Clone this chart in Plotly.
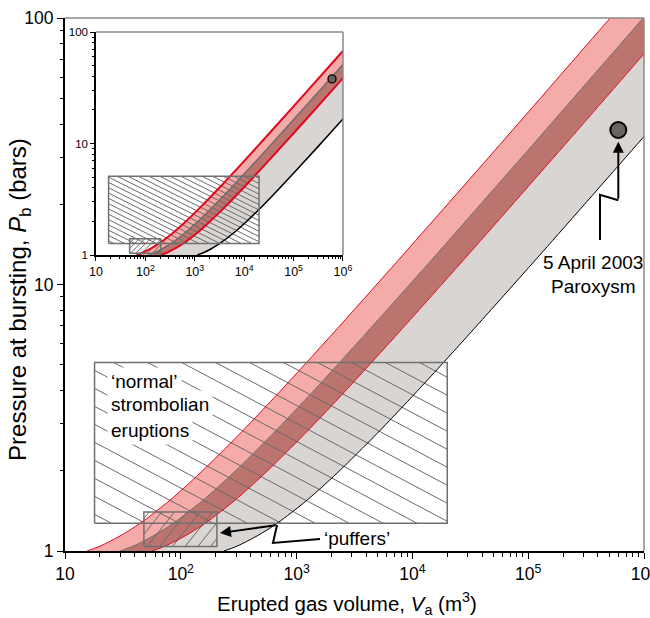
import numpy as np
import plotly.graph_objects as go

# ---------------- data ----------------
# bursting pressure levels shared by all model curves (bars)
P_curve = [1.0, 1.0424, 1.1384, 1.2691, 1.5511, 1.9585, 2.7576, 3.9707, 6.3726,
           12.545, 33.52, 97.86, 148.56]
# main panel: erupted gas volume (m3) of each boundary curve at those pressures
V_upper_red = [15.49, 20.05, 29.85, 44.43, 80.67, 146.5, 324.6, 718.9, 1943,
               7815, 57080, 488900, 1127000]
V_grey_top = [29.85, 38.64, 57.52, 85.62, 155.5, 282.3, 625.5, 1385, 3744,
              15060, 110000, 942100, 2172000]
V_lower_red = [56.43, 73.04, 108.7, 161.9, 293.9, 533.7, 1182, 2619, 7078,
               28470, 207900, 1781000, 4106000]
V_black = [235.9, 305.4, 454.6, 676.7, 1229, 2231, 4944, 10950, 29590,
           119000, 869300, 7446000, 17160000]
# inset panel curves
Vi_upper_red = [66.14, 85.61, 127.5, 189.7, 344.5, 625.6, 1386, 3070, 8297,
                33370, 243700, 2088000, 4812000]
Vi_grey_top = [115.4, 149.4, 222.4, 331.0, 601.0, 1091, 2418, 5356, 14480,
               58220, 425200, 3642000, 8396000]
Vi_lower_red = [204.5, 264.7, 394.0, 586.5, 1065, 1934, 4285, 9489, 25650,
                103200, 753500, 6453000, 14880000]
Vi_black = [1121, 1452, 2161, 3217, 5841, 10610, 23500, 52050, 140700,
            565800, 4133000, 35400000, 81600000]

# 5 April 2003 paroxysm
parox_V = [6.0e5]
parox_P = [38.0]

# observation ranges (V min, V max, P min, P max)
normal_box = (18, 2.0e4, 1.27, 5.1)
puffer_box = (48, 205, 1.04, 1.4)

x_tickvals = [10, 100, 1e3, 1e4, 1e5, 1e6]
x_ticktext = ["10", "10<sup>2</sup>", "10<sup>3</sup>", "10<sup>4</sup>",
              "10<sup>5</sup>", "10<sup>6</sup>"]
y_tickvals = [1, 10, 100]
y_ticktext = ["1", "10", "100"]

# annotation anchor points (data units)
puffer_path_V = [1592, 625, 678]
puffer_path_P = [1.109, 1.072, 1.252]
puffer_tip = (218, 1.168)
parox_path_V = [6.0e5, 4.17e5, 4.17e5]
parox_path_P = [20.7, 21.7, 14.7]
parox_tip = (6.0e5, 34.3)

# ---------------- styling / layout constants ----------------
FW, FH = 650, 618
ML, MR, MT, MB = 65, 6, 18, 67
PW, PH = FW - ML - MR, FH - MT - MB
INSET_X = [0.0535, 0.4801]
INSET_Y = [0.5553, 0.9737]
FONT = "Liberation Sans, Arial, sans-serif"

PINK = "#f5aba7"
DARK = "#bc746f"
GREY = "#d9d5d3"
RED = "#e3061f"
HATCH = "#6a6a6a"
SMOOTH = 0.8

px_main = (PW / 5.0, PH / 2.0)
px_inset = (PW * (INSET_X[1] - INSET_X[0]) / 5.0, PH * (INSET_Y[1] - INSET_Y[0]) / 2.0)


def minor_vals(lo_dec, hi_dec):
    out = []
    for d in range(lo_dec, hi_dec):
        for m in range(2, 10):
            out.append(m * 10 ** d)
    return out


def hatch(box, kind, spacing, slope, pxpd):
    v0, v1, p0, p1 = box
    lx0, lx1, ly0, ly1 = np.log10(v0), np.log10(v1), np.log10(p0), np.log10(p1)
    W = (lx1 - lx0) * pxpd[0]
    H = (ly1 - ly0) * pxpd[1]
    xs, ys = [], []
    if kind == "back":
        cs = np.arange(spacing * 0.5, H + slope * W, spacing)
        for c in cs:
            u0 = max(0.0, (c - H) / slope)
            u1 = min(W, c / slope)
            if u1 <= u0:
                continue
            for u in (u0, u1):
                xs.append(10 ** (lx0 + u / pxpd[0]))
                ys.append(10 ** (ly0 + (c - slope * u) / pxpd[1]))
            xs.append(None); ys.append(None)
    else:
        cs = np.arange(-slope * W + spacing * 0.5, H, spacing)
        for c in cs:
            u0 = max(0.0, -c / slope)
            u1 = min(W, (H - c) / slope)
            if u1 <= u0:
                continue
            for u in (u0, u1):
                xs.append(10 ** (lx0 + u / pxpd[0]))
                ys.append(10 ** (ly0 + (c + slope * u) / pxpd[1]))
            xs.append(None); ys.append(None)
    return xs, ys


def rect(box):
    v0, v1, p0, p1 = box
    return [v0, v1, v1, v0, v0], [p0, p0, p1, p1, p0]


fig = go.Figure()


def add_panel(curves, xa, ya, lw_red, lw_other, pxpd, hatch_big, hatch_small, dot_size):
    c1, c2, c3, c4 = curves
    for a, b, col in ((c1, c2, PINK), (c2, c3, DARK), (c3, c4, GREY)):
        fig.add_trace(go.Scatter(x=a + b[::-1], y=P_curve + P_curve[::-1], fill="toself",
                                 fillcolor=col,
                                 line=dict(width=0, shape="spline", smoothing=SMOOTH),
                                 mode="lines",
                                 hoverinfo="skip", showlegend=False, xaxis=xa, yaxis=ya))
    for box, (kind, sp, sl) in ((normal_box, hatch_big), (puffer_box, hatch_small)):
        hx, hy = hatch(box, kind, sp, sl, pxpd)
        fig.add_trace(go.Scatter(x=hx, y=hy, mode="lines", line=dict(color=HATCH, width=1),
                                 hoverinfo="skip", showlegend=False, xaxis=xa, yaxis=ya))
    for c, col, w in ((c1, RED, lw_red), (c2, "#6e6e6e", lw_other), (c3, RED, lw_red),
                      (c4, "#000000", lw_other)):
        fig.add_trace(go.Scatter(x=c, y=P_curve, mode="lines",
                                 line=dict(color=col, width=w, shape="spline", smoothing=SMOOTH),
                                 hoverinfo="skip", showlegend=False, xaxis=xa, yaxis=ya))
    for box in (normal_box, puffer_box):
        rx, ry = rect(box)
        fig.add_trace(go.Scatter(x=rx, y=ry, mode="lines", line=dict(color="#707070", width=1.5),
                                 hoverinfo="skip", showlegend=False, xaxis=xa, yaxis=ya))
    fig.add_trace(go.Scatter(x=parox_V, y=parox_P, mode="markers",
                             marker=dict(size=dot_size, color="#6b6461",
                                         line=dict(color="black", width=2 if dot_size > 10 else 1.3)),
                             hoverinfo="skip", showlegend=False, xaxis=xa, yaxis=ya))


add_panel((V_upper_red, V_grey_top, V_lower_red, V_black), "x", "y", 1.0, 1.0, px_main,
          ("back", 18.0, 0.53), ("fwd", 15.9, 1.25), 16)
add_panel((Vi_upper_red, Vi_grey_top, Vi_lower_red, Vi_black), "x2", "y2", 2.0, 1.5, px_inset,
          ("back", 5.3, 0.5), ("fwd", 5.5, 1.0), 8)

# zig-zag leaders
fig.add_trace(go.Scatter(x=puffer_path_V, y=puffer_path_P, mode="lines",
                         line=dict(color="black", width=2), hoverinfo="skip", showlegend=False))
fig.add_trace(go.Scatter(x=parox_path_V, y=parox_path_P, mode="lines",
                         line=dict(color="black", width=2), hoverinfo="skip", showlegend=False))

axis_common = dict(type="log", showgrid=False, zeroline=False, showline=True, automargin=False,
                   linecolor="black", ticks="outside", tickcolor="black",
                   ticklabeloverflow="allow",
                   tickfont=dict(family=FONT, color="black"))

fig.update_layout(
    width=FW, height=FH, margin=dict(l=ML, r=MR, t=MT, b=MB, autoexpand=False),
    paper_bgcolor="white", plot_bgcolor="white", showlegend=False,
    font=dict(family=FONT, color="black"),
    xaxis=dict(**axis_common, range=[1, 6], linewidth=2, ticklen=6, tickwidth=1.2,
               tickmode="array", tickvals=x_tickvals, ticktext=x_ticktext,
               tickfont_size=17.5,
               minor=dict(tickmode="array", tickvals=minor_vals(1, 6), ticks="outside",
                          ticklen=3.5, tickwidth=1, tickcolor="black")),
    yaxis=dict(**axis_common, range=[0, 2], linewidth=2, ticklen=6, tickwidth=1.2,
               tickmode="array", tickvals=y_tickvals, ticktext=y_ticktext,
               tickfont_size=17.5,
               minor=dict(tickmode="array", tickvals=minor_vals(0, 2), ticks="outside",
                          ticklen=3.5, tickwidth=1, tickcolor="black")),
    xaxis2=dict(**axis_common, domain=INSET_X, anchor="y2", range=[1, 6], linewidth=1.5,
                ticklen=4, tickwidth=1, tickmode="array", tickvals=x_tickvals,
                ticktext=x_ticktext, tickfont_size=12.5,
                minor=dict(tickmode="array", tickvals=minor_vals(1, 6), ticks="outside",
                           ticklen=2, tickwidth=0.8, tickcolor="black")),
    yaxis2=dict(**axis_common, domain=INSET_Y, anchor="x2", range=[0, 2], linewidth=1.5,
                ticklen=4, tickwidth=1, tickmode="array", tickvals=y_tickvals,
                ticktext=y_ticktext, tickfont_size=11.5,
                minor=dict(tickmode="array", tickvals=minor_vals(0, 2), ticks="outside",
                           ticklen=2, tickwidth=0.8, tickcolor="black")),
)

# grey top / right frame lines
for xr, yr, w in (("x domain", "y domain", 1.5), ("x2 domain", "y2 domain", 1.5)):
    fig.add_shape(type="line", xref=xr, yref=yr, x0=0, x1=1, y0=1, y1=1,
                  line=dict(color="#8a8a8a", width=w))
    fig.add_shape(type="line", xref=xr, yref=yr, x0=1, x1=1, y0=0, y1=1,
                  line=dict(color="#8a8a8a", width=w))

ann_font = dict(family=FONT, size=19, color="black")
for txt, ly in (("\u2018normal\u2019", 0.635), ("strombolian", 0.548), ("eruptions", 0.454)):
    fig.add_annotation(x=1.3627, y=ly, xref="x", yref="y", text=txt, showarrow=False,
                       xanchor="left", yanchor="middle", bgcolor="white", borderpad=3,
                       font=ann_font)

fig.add_annotation(x=np.log10(puffer_path_V[0]) + 0.02, y=np.log10(1.115), xref="x", yref="y",
                   text="\u2018puffers\u2019", showarrow=False, xanchor="left",
                   yanchor="middle", font=ann_font)
fig.add_annotation(x=np.log10(puffer_tip[0]), y=np.log10(puffer_tip[1]), xref="x", yref="y",
                   ax=np.log10(puffer_path_V[2]), ay=np.log10(puffer_path_P[2]),
                   axref="x", ayref="y", text="", showarrow=True, arrowhead=2,
                   arrowsize=1.1, arrowwidth=2, arrowcolor="black")
fig.add_annotation(x=np.log10(parox_tip[0]), y=np.log10(parox_tip[1]), xref="x", yref="y",
                   ax=np.log10(parox_path_V[0]), ay=np.log10(parox_path_P[0]),
                   axref="x", ayref="y", text="", showarrow=True, arrowhead=2,
                   arrowsize=1.1, arrowwidth=2, arrowcolor="black")
fig.add_annotation(x=5.56, y=np.log10(12.1), xref="x", yref="y",
                   text="5 April 2003", showarrow=False, font=ann_font)
fig.add_annotation(x=5.56, y=np.log10(9.8), xref="x", yref="y",
                   text="Paroxysm", showarrow=False, font=ann_font)

# axis titles
fig.add_annotation(x=0.487, y=-0.0976, xref="paper", yref="paper",
                   xanchor="center", yanchor="middle",
                   text="Erupted gas volume, <i>V</i><sub>a</sub> (m<sup>3</sup>)",
                   showarrow=False, font=dict(family=FONT, size=20.5, color="black"))
fig.add_annotation(x=-0.0777, y=0.471, xref="paper", yref="paper", textangle=-90,
                   xanchor="center", yanchor="middle",
                   text="Pressure at bursting, <i>P</i><sub>b</sub> (bars)",
                   showarrow=False, font=dict(family=FONT, size=24, color="black"))

fig.write_html("out.html")
